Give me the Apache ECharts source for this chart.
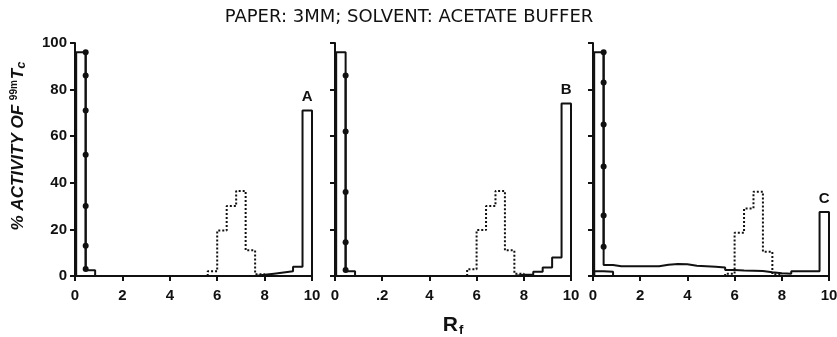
<!DOCTYPE html>
<html>
<head>
<meta charset="utf-8">
<script src="https://cdn.jsdelivr.net/npm/echarts@6/dist/echarts.min.js"></script>
<style>
  html, body { margin: 0; padding: 0; background: #fff; }
  #chart { width: 837px; height: 337px; }
</style>
</head>
<body>
<div id="chart"></div>
<script>
// bin edges along Rf (25 bins)
const binEdges = [0.05, 0.45, 0.85, 1.2, 1.6, 2.0, 2.4, 2.8, 3.2, 3.6, 4.0, 4.4, 4.8,
  5.2, 5.6, 6.0, 6.4, 6.8, 7.2, 7.6, 8.0, 8.4, 8.8, 9.2, 9.6, 10.0];

// solid histograms (% activity per bin)
const solidA = [96, 2.5, 0, 0, 0, 0, 0, 0, 0, 0, 0, 0, 0, 0, 0, 0, 0, 0, 0, 0.5, 1, 1.5, 2, 4, 71];
const solidB = [96, 2, 0, 0, 0, 0, 0, 0, 0, 0, 0, 0, 0, 0, 0, 0, 0, 0, 0, 0.5, 0.5, 1.8, 3.6, 7.9, 74];
const solidC = [96, 4.7, 4.2, 4.2, 4.2, 4.2, 4.2, 4.8, 5.2, 5.0, 4.4, 4.2, 4.0, 3.6, 2.6, 2.4, 2.3, 2.1, 1.6, 1.2, 1.0, 2.0, 2.0, 2.0, 27.5];
const lowC = [2, 1.8, 0, 0, 0, 0, 0, 0, 0, 0, 0, 0, 0, 0, 0, 0, 0, 0, 0, 0, 0, 0, 0, 0, 0];

// dotted histograms, starting at bin index dottedStart (Rf 5.6)
const dottedStart = 14;
const dottedA = [2, 19.5, 30, 36.5, 11, 0.8];
const dottedB = [2.9, 19.7, 30, 36.5, 11, 1];
const dottedC = [1, 18.6, 29, 36.2, 10.4, 0.8];

// circled points along the origin peak
const dotsX = 0.45;
const dotsA = [96, 86, 71, 52, 30, 13, 3];
const dotsB = [86, 62, 36, 14.5, 2.6];
const dotsC = [96, 83, 65, 47, 26, 12.6];

const peakLabels = ['A', 'B', 'C'];
const peakValues = [71, 74, 27.5];

const xTicks = [0, 2, 4, 6, 8, 10];
const xLabelsA = ['0', '2', '4', '6', '8', '10'];
const xLabelsB = ['0', '.2', '4', '6', '8', '10'];
const xLabelsC = ['0', '2', '4', '6', '8', '10'];

const ink = '#111';
const lblFont = 'Liberation Sans';

// turn bin values into step corner points
const toSteps = (values, start) => {
  const pts = [[binEdges[start], 0]];
  values.forEach((v, i) => pts.push([binEdges[start + i], v]));
  const last = start + values.length;
  pts.push([binEdges[last], values[values.length - 1]]);
  pts.push([binEdges[last], 0]);
  return pts;
};

const stepSeries = (idx, values, start, dotted) => ({
  type: 'line',
  xAxisIndex: idx,
  yAxisIndex: idx,
  step: 'end',
  data: toSteps(values, start),
  showSymbol: false,
  clip: false,
  silent: true,
  lineStyle: { color: ink, width: 2, type: dotted ? [2, 2] : 'solid' },
  z: dotted ? 3 : 4,
});

const dotSeries = (idx, values) => ({
  type: 'line',
  xAxisIndex: idx,
  yAxisIndex: idx,
  data: values.map(v => [dotsX, v]),
  symbol: 'circle',
  symbolSize: 6,
  showSymbol: true,
  clip: false,
  silent: true,
  itemStyle: { color: ink },
  lineStyle: { color: ink, width: 2 },
  z: 5,
});

const labelSeries = (idx) => ({
  type: 'scatter',
  xAxisIndex: idx,
  yAxisIndex: idx,
  data: [[9.8, peakValues[idx]]],
  symbolSize: 0,
  silent: true,
  itemStyle: { opacity: 1 },
  label: {
    show: true,
    position: 'top',
    distance: 6,
    formatter: () => peakLabels[idx],
    color: ink,
    fontFamily: lblFont,
    fontWeight: 'bold',
    fontSize: 15,
  },
});

const lefts = [75, 335, 593];
const widths = [237, 236, 236];
const xLabelSets = [xLabelsA, xLabelsB, xLabelsC];

const option = {
  backgroundColor: '#fff',
  animation: false,
  title: {
    text: 'PAPER: 3MM; SOLVENT: ACETATE BUFFER',
    left: 404,
    top: 3,
    textAlign: 'center',
    textStyle: { fontFamily: 'DejaVu Sans', fontWeight: 'normal', fontSize: 18, color: ink },
  },
  grid: lefts.map((l, i) => ({
    left: l, top: 43, width: widths[i], height: 233,
    containLabel: false, outerBoundsMode: 'none',
  })),
  xAxis: lefts.map((l, i) => ({
    type: 'value',
    gridIndex: i,
    min: 0,
    max: 10,
    interval: 2,
    splitLine: { show: false },
    axisLine: { lineStyle: { color: ink, width: 2 } },
    axisTick: { show: true, length: 5, lineStyle: { color: ink, width: 2 } },
    axisLabel: {
      margin: 12,
      color: ink,
      fontFamily: lblFont,
      fontWeight: 'bold',
      fontSize: 15,
      formatter: v => xLabelSets[i][xTicks.indexOf(v)],
    },
    name: i === 1 ? '{r|R}{f|f}' : '',
    nameLocation: 'middle',
    nameGap: 38,
    nameTextStyle: {
      rich: {
        r: { fontFamily: lblFont, fontWeight: 'bold', fontSize: 21, color: ink },
        f: { fontFamily: lblFont, fontWeight: 'bold', fontSize: 13, color: ink, padding: [10, 0, 0, 1] },
      },
    },
  })),
  yAxis: lefts.map((l, i) => ({
    type: 'value',
    gridIndex: i,
    min: 0,
    max: 100,
    interval: 20,
    splitLine: { show: false },
    axisLine: { show: true, lineStyle: { color: ink, width: 2 } },
    axisTick: { show: true, length: 5, lineStyle: { color: ink, width: 2 } },
    axisLabel: {
      show: i === 0,
      margin: 8,
      color: ink,
      fontFamily: lblFont,
      fontWeight: 'bold',
      fontSize: 15,
    },
  })),
  graphic: [{
    type: 'text',
    x: 18,
    y: 146,
    rotation: Math.PI / 2,
    style: {
      text: '{a|% ACTIVITY OF }{s|99m}{a|T}{c|c}',
      align: 'center',
      verticalAlign: 'middle',
      rich: {
        a: { fontFamily: lblFont, fontStyle: 'italic', fontWeight: 'bold', fontSize: 17, fill: ink },
        s: { fontFamily: lblFont, fontWeight: 'bold', fontSize: 10, fill: ink, padding: [0, 1, 8, 0] },
        c: { fontFamily: lblFont, fontStyle: 'italic', fontWeight: 'bold', fontSize: 13, fill: ink, padding: [6, 0, 0, 0] },
      },
    },
  }],
  series: [
    stepSeries(0, solidA, 0, false),
    stepSeries(0, dottedA, dottedStart, true),
    dotSeries(0, dotsA),
    labelSeries(0),
    stepSeries(1, solidB, 0, false),
    stepSeries(1, dottedB, dottedStart, true),
    dotSeries(1, dotsB),
    labelSeries(1),
    stepSeries(2, solidC, 0, false),
    stepSeries(2, lowC, 0, false),
    stepSeries(2, dottedC, dottedStart, true),
    dotSeries(2, dotsC),
    labelSeries(2),
  ],
};

const chart = echarts.init(document.getElementById('chart'));
chart.setOption(option);
</script>
</body>
</html>
